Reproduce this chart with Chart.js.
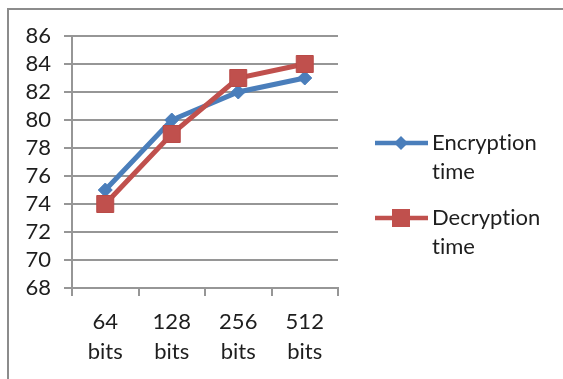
<!DOCTYPE html>
<html>
<head>
<meta charset="utf-8">
<script src="https://cdn.jsdelivr.net/npm/chart.js@4"></script>
<style>
  html, body { margin: 0; padding: 0; background: #fff; }
  #wrap { position: relative; width: 563px; height: 379px; overflow: hidden; background: #fff; }
  #frame { position: absolute; left: 7px; top: 8px; width: 600px; height: 420px;
           border-left: 2px solid #8c8c8c; border-top: 2px solid #8c8c8c; }
  canvas { position: absolute; left: 0; top: 0; }
</style>
</head>
<body>
<div id="wrap">
  <div id="frame"></div>
  <canvas id="c" width="563" height="379"></canvas>
</div>
<script>
// Key sizes (x axis), split over two lines
const categories = [['64', 'bits'], ['128', 'bits'], ['256', 'bits'], ['512', 'bits']];
// Timing series
const encryptionTime = [75, 80, 82, 83];
const decryptionTime = [74, 79, 83, 84];
const seriesLabels = ['Encryption time', 'Decryption time'];
// Value axis range
const yMin = 68;
const yMax = 86;
const yStep = 2;

const BLUE = '#4A7EBB';
const RED = '#C0504D';
const GRID = '#969696';
const TEXT = '#1e1e1e';
const FONT = { family: 'Lato, "Noto Sans", sans-serif', size: 22 };

// Legend to the right, each label wrapped onto two lines
const sideLegend = {
  id: 'sideLegend',
  afterDraw(chart) {
    const ctx = chart.ctx;
    const rowTop = [143, 218];
    const lineH = 29;
    ctx.save();
    chart.data.datasets.forEach((ds, i) => {
      const y = rowTop[i];
      ctx.strokeStyle = ds.borderColor;
      ctx.lineWidth = 4.5;
      ctx.lineCap = 'butt';
      ctx.beginPath();
      ctx.moveTo(375, y);
      ctx.lineTo(428, y);
      ctx.stroke();
      const cx = 401;
      ctx.fillStyle = ds.pointBackgroundColor;
      ctx.beginPath();
      if (ds.pointStyle === 'rectRot') {
        const r = 7;
        ctx.moveTo(cx, y - r); ctx.lineTo(cx + r, y); ctx.lineTo(cx, y + r); ctx.lineTo(cx - r, y);
        ctx.closePath();
      } else {
        ctx.rect(cx - 9, y - 9, 18, 18);
      }
      ctx.fill();
      ctx.fillStyle = TEXT;
      ctx.font = FONT.size + 'px ' + FONT.family;
      ctx.textAlign = 'left';
      ctx.textBaseline = 'middle';
      // plain glyphs, no "ti" ligature
      ctx.textRendering = 'optimizeSpeed';
      if ('letterSpacing' in ctx) ctx.letterSpacing = '0.01px';
      ds.label.split(' ').forEach((word, j) => {
        ctx.fillText(word, 432, y + j * lineH);
      });
    });
    ctx.restore();
  }
};

new Chart(document.getElementById('c'), {
  type: 'line',
  data: {
    labels: categories,
    datasets: [
      {
        label: seriesLabels[0],
        data: encryptionTime,
        borderColor: BLUE,
        backgroundColor: BLUE,
        pointBackgroundColor: BLUE,
        pointBorderColor: BLUE,
        pointStyle: 'rectRot',
        pointRadius: 7,
        pointBorderWidth: 1,
        borderWidth: 5,
        tension: 0,
        order: 1
      },
      {
        label: seriesLabels[1],
        data: decryptionTime,
        borderColor: RED,
        backgroundColor: RED,
        pointBackgroundColor: RED,
        pointBorderColor: '#B94A47',
        pointStyle: 'rect',
        pointRadius: 12,
        pointBorderWidth: 1,
        borderWidth: 5,
        tension: 0,
        order: 0
      }
    ]
  },
  options: {
    responsive: false,
    devicePixelRatio: 1,
    animation: false,
    layout: { padding: { left: 0, top: 36, right: 225, bottom: 0 } },
    plugins: {
      legend: { display: false },
      tooltip: { enabled: false }
    },
    scales: {
      x: {
        type: 'category',
        offset: true,
        grid: {
          offset: true,
          drawOnChartArea: false,
          drawTicks: true,
          tickLength: 8,
          color: GRID,
          lineWidth: 2
        },
        border: { color: GRID, width: 2 },
        ticks: {
          font: { ...FONT, lineHeight: 1.36 },
          color: TEXT,
          padding: 11,
          maxRotation: 0,
          autoSkip: false
        },
        afterFit(scale) { scale.height = 91; }
      },
      y: {
        min: yMin,
        max: yMax,
        ticks: {
          stepSize: yStep,
          font: { ...FONT, lineHeight: 0.9 },
          color: TEXT,
          padding: 13,
          autoSkip: false,
          maxTicksLimit: 20
        },
        grid: { color: GRID, lineWidth: 2, tickLength: 8 },
        border: { color: GRID, width: 2 },
        afterFit(scale) { scale.width = 72; }
      }
    }
  },
  plugins: [sideLegend]
});
</script>
</body>
</html>
